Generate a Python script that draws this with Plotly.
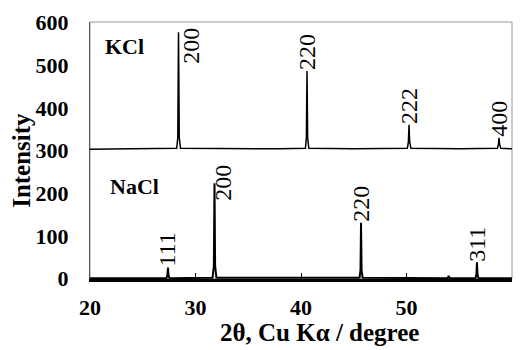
import plotly.graph_objects as go

# ---- data -------------------------------------------------------------
# KCl diffraction pattern (2theta in degrees, intensity offset by +300)
kcl_2theta = [20.0, 21.5, 24.0, 28.22, 28.32, 28.39, 28.46, 28.58, 33.0, 38.0,
              40.42, 40.51, 40.57, 40.63, 40.74, 45.0, 50.08, 50.18, 50.24,
              50.30, 50.42, 55.0, 58.62, 58.72, 58.77, 58.82, 58.94, 60.0]
kcl_intensity = [303, 303, 304, 305, 330, 577, 330, 305, 304, 304,
                 305, 330, 486, 330, 305, 304, 305, 320, 360,
                 320, 305, 304, 305, 315, 330, 315, 305, 304]

# NaCl diffraction pattern (2theta in degrees, intensity)
nacl_2theta = [20.0, 27.25, 27.34, 27.39, 27.44, 27.53, 31.62, 31.74, 31.80,
               31.86, 31.98, 40.0, 45.55, 45.64, 45.69, 45.74, 45.84, 53.9,
               54.0, 54.1, 56.54, 56.63, 56.68, 56.73, 56.82, 60.0]
nacl_intensity = [1, 1, 8, 26, 8, 1, 2, 30, 223,
                  30, 2, 1, 2, 20, 131, 20, 2, 1,
                  6, 1, 1, 10, 38, 10, 1, 1]

# Miller-index labels for the reflections
kcl_hkl = ["200", "220", "222", "400"]
kcl_hkl_2theta = [28.39, 40.57, 50.24, 58.77]
kcl_hkl_height = [577, 486, 360, 330]

nacl_hkl = ["111", "200", "220", "311"]
nacl_hkl_2theta = [27.39, 31.80, 45.69, 56.68]
nacl_hkl_height = [26, 223, 131, 38]

x_ticks = [20, 30, 40, 50, 60]
y_ticks = [0, 100, 200, 300, 400, 500, 600]

# ---- figure -----------------------------------------------------------
SERIF = "Liberation Serif"

fig = go.Figure()
fig.add_trace(go.Scatter(x=kcl_2theta, y=kcl_intensity, mode="lines",
                         line=dict(color="black", width=1.5), showlegend=False))
fig.add_trace(go.Scatter(x=nacl_2theta, y=nacl_intensity, mode="lines",
                         line=dict(color="black", width=2), showlegend=False))

# index labels: placed above each peak; the two strongest peaks reach the
# top of their panel, so their labels sit beside the peak instead
def add_hkl(labels, xs, ys, side_shift):
    for lab, x, y in zip(labels, xs, ys):
        dx, dy = side_shift.get(lab, (0, 0))
        fig.add_annotation(x=x, y=y, xref="x", yref="y", text=lab,
                           textangle=-90, showarrow=False,
                           xanchor="center", yanchor="bottom",
                           xshift=dx, yshift=dy, borderpad=0,
                           font=dict(family=SERIF, size=24, color="black"))

add_hkl(kcl_hkl, kcl_hkl_2theta, kcl_hkl_height, {"200": (13, -33)})
add_hkl(nacl_hkl, nacl_hkl_2theta, nacl_hkl_height, {"200": (9, -18)})

fig.add_annotation(x=0.031, y=0.906, xref="paper", yref="paper", text="KCl",
                   showarrow=False, xanchor="left", yanchor="middle",
                   font=dict(family=SERIF, size=22, color="black", weight="bold"))
fig.add_annotation(x=0.043, y=0.36, xref="paper", yref="paper", text="NaCl",
                   showarrow=False, xanchor="left", yanchor="middle",
                   font=dict(family=SERIF, size=22, color="black", weight="bold"))

# axis titles
fig.add_annotation(x=0.545, y=-0.207, xref="paper", yref="paper",
                   text="2θ, Cu Kα / degree", showarrow=False,
                   xanchor="center", yanchor="middle",
                   font=dict(family=SERIF, size=25, color="black", weight="bold"))
fig.add_annotation(x=-0.161, y=0.46, xref="paper", yref="paper",
                   text="Intensity", textangle=-90, showarrow=False,
                   xanchor="center", yanchor="middle",
                   font=dict(family=SERIF, size=25, color="black", weight="bold"))

# thin grey frame around the plot area
fig.add_shape(type="rect", xref="paper", yref="paper", x0=0, y0=0, x1=1, y1=1,
              line=dict(color="#9a9a9a", width=1), layer="below")

fig.update_layout(
    width=522, height=350,
    margin=dict(l=90, r=10, t=16, b=71),
    paper_bgcolor="white", plot_bgcolor="white",
    xaxis=dict(range=[20, 60], tickvals=x_ticks, ticks="inside", ticklen=6,
               tickwidth=1, tickcolor="black", showline=True, linewidth=3,
               linecolor="black", showgrid=False, zeroline=False,
               ticklabelstandoff=7,
               tickfont=dict(family=SERIF, size=22, color="black", weight="bold")),
    yaxis=dict(range=[-1, 601], tickvals=y_ticks, ticks="", showline=True,
               linewidth=1, linecolor="#555555", showgrid=False, zeroline=False,
               ticklabelstandoff=16,
               tickfont=dict(family=SERIF, size=22, color="black", weight="bold")),
)

fig.write_html("out.html")
